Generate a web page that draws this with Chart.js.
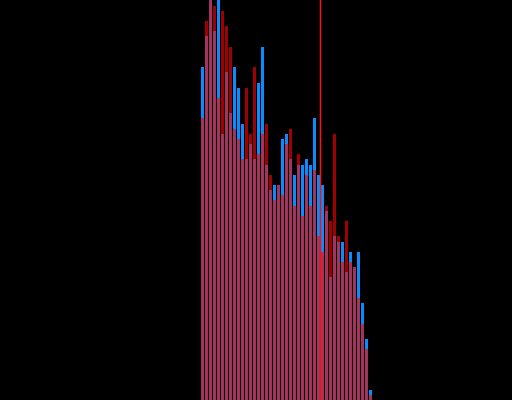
<!DOCTYPE html>
<html>
<head>
<meta charset="utf-8">
<style>
  html, body { margin: 0; padding: 0; background: #000; }
  #wrap { width: 512px; height: 400px; }
  canvas { display: block; }
</style>
<script src="https://cdn.jsdelivr.net/npm/chart.js@4.4.1/dist/chart.umd.min.js"></script>
</head>
<body>
<div id="wrap"><canvas id="c" width="512" height="400"></canvas></div>
<script>
// Histogram bins (bin index)
const bins = [0,1,2,3,4,5,6,7,8,9,10,11,12,13,14,15,16,17,18,19,20,
              21,22,23,24,25,26,27,28,29,30,31,32,33,34,35,36,37,38,39,40,41,42];
// Series A (blue) counts
const blueCounts = [333,364,412,369,408,266,328,287,333,312,276,241,256,241,317,353,235,210,215,215,261,
                    266,241,225,235,235,241,235,282,225,215,189,123,164,158,158,128,148,133,148,97,61,10];
// Series B (red) counts
const redCounts  = [282,379,404,394,302,389,374,353,271,261,241,312,266,333,246,266,276,225,200,215,205,
                    256,271,194,246,184,225,194,230,164,148,194,179,266,164,138,179,138,133,102,76,51,5];
// Axis range and marker position (in bin units)
const xMin = -50.625, xMax = 77.375;
const yMin = 0, yMax = 400;
const markerValue = 29.5;

const toPoints = arr => bins.map((b, i) => ({ x: b, y: arr[i] }));

const markerPlugin = {
  id: 'marker',
  afterDatasetsDraw(chart) {
    const { ctx, chartArea, scales } = chart;
    const px = scales.x.getPixelForValue(markerValue);
    ctx.save();
    ctx.strokeStyle = 'rgb(255,16,16)';
    ctx.lineWidth = 1.5;
    ctx.beginPath();
    ctx.moveTo(px, chartArea.top);
    ctx.lineTo(px, chartArea.bottom);
    ctx.stroke();
    ctx.restore();
  }
};

new Chart(document.getElementById('c'), {
  type: 'bar',
  data: {
    datasets: [
      { data: toPoints(blueCounts), backgroundColor: 'rgb(10,140,255)', grouped: false, order: 2,
        barPercentage: 0.75, categoryPercentage: 1.0, borderWidth: 0 },
      { data: toPoints(redCounts), backgroundColor: 'rgba(255,0,0,0.63)', grouped: false, order: 1,
        barPercentage: 0.75, categoryPercentage: 1.0, borderWidth: 0 }
    ]
  },
  options: {
    responsive: false,
    animation: false,
    devicePixelRatio: 1,
    layout: { padding: 0 },
    plugins: { legend: { display: false }, tooltip: { enabled: false } },
    scales: {
      x: { type: 'linear', min: xMin, max: xMax, offset: false, display: false, grid: { display: false, offset: false } },
      y: { min: yMin, max: yMax, display: false, grid: { display: false } }
    }
  },
  plugins: [markerPlugin]
});
</script>
</body>
</html>
